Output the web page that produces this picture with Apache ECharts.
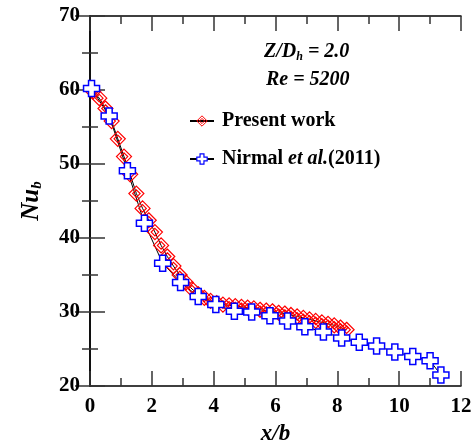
<!DOCTYPE html>
<html>
<head>
<meta charset="utf-8">
<script src="https://cdn.jsdelivr.net/npm/echarts@6/dist/echarts.min.js"></script>
<style>
  html, body { margin: 0; padding: 0; background: #fff; }
  #chart { width: 474px; height: 446px; }
</style>
</head>
<body>
<div id="chart"></div>
<script>
// Present work (red diamonds)
var presentX = [0.1, 0.3, 0.5, 0.7, 0.9, 1.1, 1.3, 1.5, 1.7, 1.9, 2.1, 2.3, 2.5, 2.7, 2.9,
  3.1, 3.3, 3.5, 3.7, 3.9, 4.1, 4.3, 4.5, 4.7, 4.9, 5.1, 5.3, 5.5, 5.7, 5.9, 6.1, 6.3,
  6.5, 6.7, 6.9, 7.1, 7.3, 7.5, 7.7, 7.9, 8.1, 8.3];
var presentY = [59.8, 58.9, 57.5, 55.8, 53.4, 51.0, 48.6, 46.0, 44.0, 42.4, 40.8, 39.0, 37.5,
  36.2, 35.0, 34.0, 33.1, 32.4, 31.9, 31.5, 31.2, 31.0, 30.9, 30.8, 30.7, 30.6, 30.5, 30.3,
  30.2, 30.1, 29.9, 29.8, 29.6, 29.4, 29.2, 29.0, 28.8, 28.6, 28.4, 28.2, 27.9, 27.6];

// Nirmal et al. (2011) (blue crosses)
var nirmalX = [0.05, 0.62, 1.21, 1.76, 2.35, 2.93, 3.5, 4.07, 4.67, 5.23, 5.82, 6.39, 6.95,
  7.55, 8.14, 8.71, 9.27, 9.86, 10.44, 11.0, 11.35];
var nirmalY = [60.2, 56.5, 49.1, 42.0, 36.6, 34.0, 32.1, 31.0, 30.1, 30.0, 29.5, 28.8, 28.0,
  27.3, 26.5, 25.9, 25.4, 24.6, 24.0, 23.4, 21.5];

var xTicks = [0, 2, 4, 6, 8, 10, 12];
var yTicks = [20, 30, 40, 50, 60, 70];

function pairs(xs, ys) {
  return xs.map(function (x, i) { return [x, ys[i]]; });
}

var serif = "Liberation Serif";
var axisColor = "#000";

function makeAxis(pos, ticks, showLabel, minorSplit) {
  return {
    type: "value",
    position: pos,
    min: ticks[0],
    max: ticks[ticks.length - 1],
    interval: ticks[1] - ticks[0],
    axisLine: { show: true, lineStyle: { color: axisColor, width: 1.5 } },
    axisTick: { show: true, inside: true, length: 15, lineStyle: { color: "#333", width: 1.5 } },
    minorTick: { show: true, splitNumber: minorSplit, length: 8, lineStyle: { color: "#333", width: 1.5 } },
    splitLine: { show: false },
    axisLabel: {
      show: showLabel,
      margin: 10,
      fontFamily: serif,
      fontWeight: "bold",
      fontSize: 21,
      color: "#000"
    }
  };
}

var xBottom = makeAxis("bottom", xTicks, true, 2);
xBottom.name = "x/b";
xBottom.nameLocation = "middle";
xBottom.nameGap = 37;
xBottom.nameTextStyle = { fontFamily: serif, fontWeight: "bold", fontStyle: "italic", fontSize: 23, color: "#000" };
var xTop = makeAxis("top", xTicks, false, 2);

var yLeft = makeAxis("left", yTicks, true, 2);
yLeft.name = "{a|Nu}{b|b}";
yLeft.nameLocation = "middle";
yLeft.nameGap = 45;
yLeft.nameTextStyle = {
  color: "#000",
  rich: {
    a: { fontFamily: serif, fontWeight: "bold", fontStyle: "italic", fontSize: 25, color: "#000" },
    b: { fontFamily: serif, fontWeight: "bold", fontStyle: "italic", fontSize: 15, color: "#000", padding: [12, 0, 0, 0] }
  }
};
var yRight = makeAxis("right", yTicks, false, 2);

var diamondPath = "path://M8,0 L16,8 L8,16 L0,8 Z M8,4 L12,8 L8,12 L4,8 Z";
var crossPath = "path://M5,0 L11,0 L11,5 L16,5 L16,11 L11,11 L11,16 L5,16 L5,11 L0,11 L0,5 L5,5 Z";

var option = {
  animation: false,
  backgroundColor: "#fff",
  grid: { left: 90, right: 13, top: 16, bottom: 60, outerBoundsMode: "none", containLabel: false },
  xAxis: [xBottom, xTop],
  yAxis: [yLeft, yRight],
  legend: {
    orient: "vertical",
    left: 184,
    top: 106,
    itemWidth: 24,
    itemHeight: 13,
    itemGap: 18,
    textStyle: {
      fontFamily: serif,
      fontWeight: "bold",
      fontSize: 20,
      color: "#000",
      padding: [0, 0, 0, 3],
      rich: {
        i: { fontFamily: serif, fontWeight: "bold", fontStyle: "italic", fontSize: 20, color: "#000" },
        n: { fontFamily: serif, fontWeight: "bold", fontSize: 20, color: "#000" }
      }
    },
    formatter: function (name) {
      if (name === "Nirmal") return "{n|Nirmal }{i|et al.}{n|(2011)}";
      return name;
    },
    data: [
      { name: "Present work", itemStyle: { color: "transparent", borderColor: "#ff0000", borderWidth: 1 } },
      { name: "Nirmal", itemStyle: { color: "#fff", borderColor: "#0000ff", borderWidth: 1.2 } }
    ]
  },
  graphic: [
    {
      type: "text",
      left: 264,
      top: 42,
      style: {
        text: "{a|Z/D}{s|h}{a| = 2.0}",
        rich: {
          a: { fontFamily: serif, fontWeight: "bold", fontStyle: "italic", fontSize: 20, fill: "#000" },
          s: { fontFamily: serif, fontWeight: "bold", fontStyle: "italic", fontSize: 12, fill: "#000", padding: [10, 0, 0, 0] }
        }
      }
    },
    {
      type: "text",
      left: 266,
      top: 70,
      style: {
        text: "Re = 5200",
        font: "italic bold 20px 'Liberation Serif'",
        fill: "#000"
      }
    }
  ],
  series: [
    {
      name: "Present work",
      type: "line",
      data: pairs(presentX, presentY),
      symbol: diamondPath,
      symbolSize: 15,
      lineStyle: { color: "#000", width: 1 },
      itemStyle: { color: "none", borderColor: "#ff0000", borderWidth: 1.2 }
    },
    {
      name: "Nirmal",
      type: "line",
      data: pairs(nirmalX, nirmalY),
      symbol: crossPath,
      symbolSize: 16,
      lineStyle: { color: "#000", width: 1 },
      itemStyle: { color: "#fff", borderColor: "#0000ff", borderWidth: 1.5 }
    }
  ]
};

var myChart = echarts.init(document.getElementById("chart"));
myChart.setOption(option);
</script>
</body>
</html>
